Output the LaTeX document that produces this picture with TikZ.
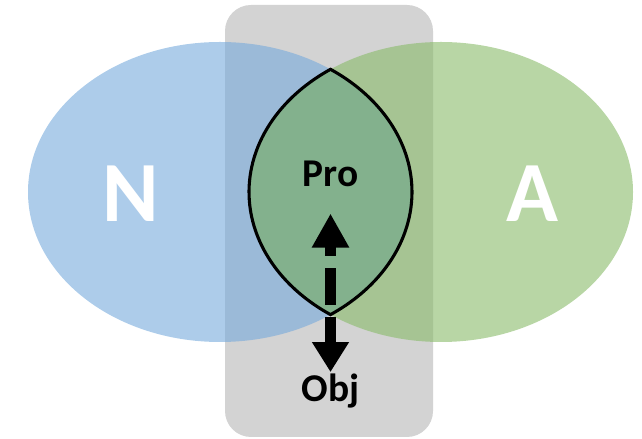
\documentclass[tikz,border=0pt]{standalone}
\usepackage{fontspec}
\setsansfont{Carlito}
\usetikzlibrary{arrows.meta}
\definecolor{bluset}{RGB}{118,170,220}
\definecolor{greenset}{RGB}{137,187,105}
\definecolor{grayback}{RGB}{211,211,211}
\definecolor{lensfill}{RGB}{131,177,141}
\begin{document}
\begin{tikzpicture}
    % Definizione stili
    \tikzstyle{insieme}=[opacity=0.6]
    \tikzstyle{setname}=[text=white, inner sep=0pt, font=\sffamily\bfseries\fontsize{61}{61}\selectfont]
    \tikzstyle{term}=[inner sep=0pt, anchor=base, font=\sffamily\bfseries\fontsize{28}{28}\selectfont]
    \tikzstyle{upflow}=[-{Triangle[width=0.875cm, length=0.85cm]}, line width=0.275cm, dash pattern=on 0.925cm off 0.3cm]
    \tikzstyle{downflow}=[-{Triangle[width=0.875cm, length=0.75cm]}, line width=0.275cm]

    \useasboundingbox (0,0) rectangle (16.05,10.975);

    % Fondo grigio
    \fill[grayback, rounded corners=0.65cm] (5.625,0.05) rectangle (10.825,10.85);

    % Insiemi
    \fill[insieme, bluset] (5.5,6.175) ellipse [x radius=4.8cm, y radius=3.75cm];
    \fill[insieme, greenset] (11.025,6.175) ellipse [x radius=4.8cm, y radius=3.75cm];

    % Intersezione
    \coordinate (lenstop) at (8.2625,9.242);
    \coordinate (lensbot) at (8.2625,3.108);
    \filldraw[fill=lensfill, line width=2.2pt] (lenstop)
        arc[start angle=125.14, end angle=234.86, x radius=4.8cm, y radius=3.75cm]
        arc[start angle=-54.86, end angle=54.86, x radius=4.8cm, y radius=3.75cm] -- cycle;

    % Etichette
    \node[setname] (set_n) at (3.275,6.125) {N};
    \node[setname] (set_a) at (13.3,6.125) {A};
    \node[term] (term_pro) at (8.2625,6.3) {Pro};
    \node[term] (term_obj) at (8.2625,0.925) {Obj};

    % Frecce
    \draw[upflow, shorten <=0.25cm, shorten >=0.65cm] (lensbot) -- (term_pro.south);
    \draw[downflow, shorten <=0.05cm, shorten >=0.05cm] (lensbot) -- (term_obj.north);
\end{tikzpicture}
\end{document}
